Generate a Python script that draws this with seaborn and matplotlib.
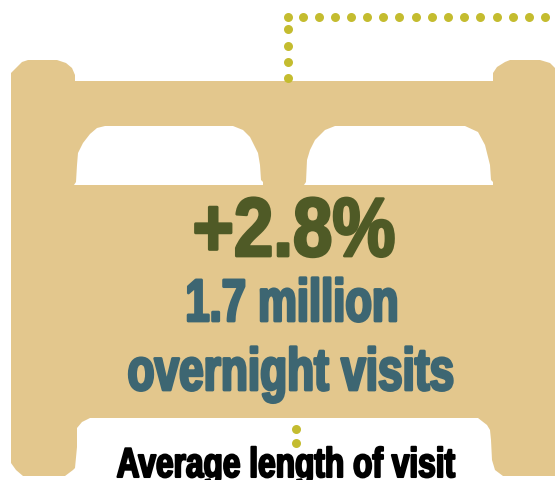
import matplotlib
matplotlib.use("Agg")
import matplotlib.pyplot as plt
from matplotlib.patheffects import AbstractPathEffect
from matplotlib.transforms import Affine2D
import seaborn as sns
import pandas as pd

# Bed silhouette, in pixel-like units of a 555x481 canvas
frame_x = [11, 16, 22, 28, 57, 66, 72, 75, 75, 493, 493, 497, 505, 510, 540, 550, 555,
           555, 503, 495, 492, 491, 490, 487, 478, 90, 82, 77, 77, 75, 73, 65, 23, 16, 11]
frame_y = [73, 68, 62, 60, 60, 63, 68, 75, 81, 81, 73, 67, 62, 60, 60, 63, 68,
           476, 476, 470, 460, 440, 430, 425, 418, 418, 422, 428, 447, 468, 470, 476, 476, 470, 463]
pillow_left_x = [74, 76, 77, 78, 83, 90, 97, 105, 233, 243, 250, 258, 260, 261, 263, 263]
pillow_left_y = [185, 182, 165, 153, 143, 134, 128, 126, 126, 130, 137, 153, 165, 180, 182, 185]
pillow_right_x = [304, 306, 307, 310, 315, 325, 335, 465, 478, 485, 490, 491, 493, 493]
pillow_right_y = [185, 182, 160, 150, 140, 130, 126, 126, 132, 145, 165, 180, 182, 185]

# Dotted connector
dots_x = [288, 303, 319, 335, 351, 367, 383, 399, 416, 432, 448, 464, 480, 497, 513, 529, 545,
          288, 288, 288, 288, 296, 296]
dots_y = [17] * 17 + [29, 46, 62, 78, 429, 443]

headline = "+2.8%"
subline_one = "1.7 million"
subline_two = "overnight visits"
footer = "Average length of visit"

BED = "#e3c78d"
DOT = "#c4bc2f"
OLIVE = "#4f5a26"
TEAL = "#3d6672"

sns.set_theme(style="white")
plt.rcParams["font.family"] = ["Liberation Sans", "DejaVu Sans"]


class Condensed(AbstractPathEffect):
    """Narrows glyph outlines about a vertical axis and thickens them."""

    def __init__(self, factor, centre, weight):
        super().__init__()
        self.factor = factor
        self.centre = centre
        self.weight = weight

    def draw_path(self, renderer, gc, tpath, affine, rgbFace=None):
        squeeze = Affine2D().translate(-self.centre, 0).scale(self.factor, 1).translate(self.centre, 0)
        gc0 = renderer.new_gc()
        gc0.copy_properties(gc)
        gc0.set_linewidth(self.weight)
        gc0.set_foreground(rgbFace)
        renderer.draw_path(gc0, tpath, affine + squeeze, rgbFace)
        gc0.restore()


fig = plt.figure(figsize=(5.55, 4.81), dpi=100)
ax = fig.add_axes([0, 0, 1, 1])
ax.axis("off")

ax.fill(frame_x, frame_y, color=BED, lw=0, zorder=1)
ax.fill(pillow_left_x, pillow_left_y, color="white", lw=0, zorder=2)
ax.fill(pillow_right_x, pillow_right_y, color="white", lw=0, zorder=2)

dots = pd.DataFrame({"x": dots_x, "y": dots_y})
sns.scatterplot(data=dots, x="x", y="y", color=DOT, s=42, linewidth=0, ax=ax, zorder=3, legend=False)
ax.set_xlim(0, 555)
ax.set_ylim(480, -1)


def label(x, y, s, size, color, factor, weight):
    ax.text(x, y, s, ha="center", va="baseline", fontsize=size, color=color,
            fontweight="bold", zorder=4,
            path_effects=[Condensed(factor, x, weight)])


label(294, 256, headline, 60, OLIVE, 0.85, 2.0)
label(292, 321, subline_one, 43, TEAL, 0.73, 2.0)
label(291, 390, subline_two, 43, TEAL, 0.74, 2.0)
label(286, 477, footer, 30, "black", 0.76, 1.5)

fig.savefig("out.png", dpi=100)
